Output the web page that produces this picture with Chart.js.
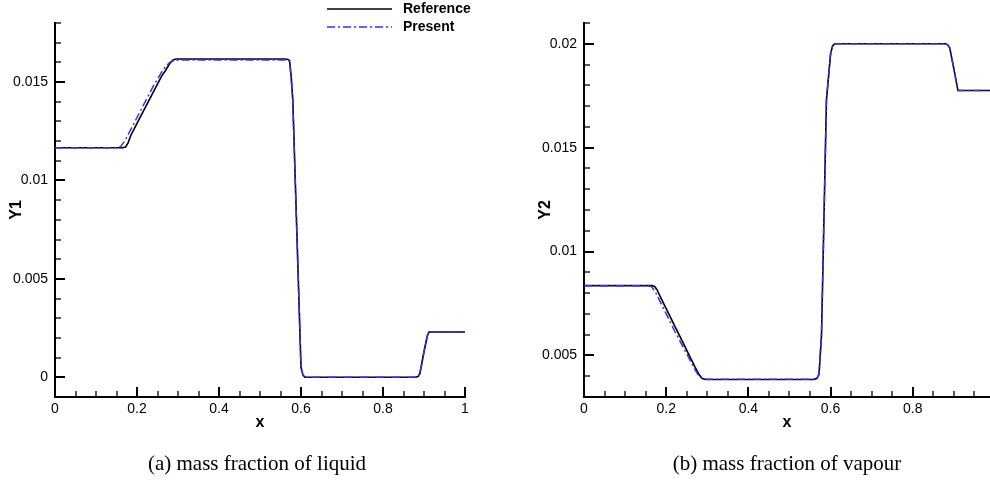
<!DOCTYPE html>
<html><head><meta charset="utf-8">
<script src="https://cdn.jsdelivr.net/npm/chart.js@4.4.0/dist/chart.umd.min.js"></script>
<style>
html,body{margin:0;padding:0;background:#fff;width:990px;height:483px;overflow:hidden;}
canvas{position:absolute;top:0;}
#c1{left:0}
#c2{left:495px}
.cap{position:absolute;top:451px;line-height:24px;font-family:"Liberation Serif","Times New Roman",serif;font-size:21px;white-space:nowrap;transform:translateX(-50%);color:#000;}
</style></head><body>
<canvas id="c1" width="495" height="483"></canvas>
<canvas id="c2" width="495" height="483"></canvas>
<div class="cap" style="left:257px">(a) mass fraction of liquid</div>
<div class="cap" style="left:787px">(b) mass fraction of vapour</div>
<script>
// ---- data ----
const SERIES_NAMES = ['Reference', 'Present'];

const Y1_REF_X = [0, 0.165, 0.172, 0.178, 0.185, 0.19, 0.20, 0.22, 0.24, 0.26, 0.27, 0.28, 0.288, 0.295, 0.30, 0.56, 0.568, 0.572, 0.576, 0.58, 0.59, 0.60, 0.605, 0.61, 0.88, 0.886, 0.89, 0.90, 0.908, 0.912, 1.0];
const Y1_REF_Y = [0.01166, 0.01166, 0.01170, 0.01190, 0.01230, 0.01250, 0.01290, 0.01370, 0.01450, 0.01530, 0.01560, 0.01595, 0.01612, 0.01617, 0.01617, 0.01617, 0.01615, 0.01610, 0.01530, 0.01410, 0.00730, 0.00050, 0.00010, 0.0, 0.0, 0.00005, 0.00020, 0.00130, 0.00210, 0.00230, 0.00230];

const Y1_PRE_X = [0, 0.15, 0.16, 0.17, 0.18, 0.19, 0.20, 0.22, 0.24, 0.26, 0.27, 0.28, 0.29, 0.30, 0.56, 0.568, 0.572, 0.576, 0.58, 0.59, 0.60, 0.605, 0.61, 0.88, 0.886, 0.89, 0.90, 0.908, 0.912, 1.0];
const Y1_PRE_Y = [0.01166, 0.01166, 0.01172, 0.01200, 0.01240, 0.01280, 0.01320, 0.01400, 0.01480, 0.01550, 0.01580, 0.01600, 0.01610, 0.01612, 0.01612, 0.01610, 0.01605, 0.01520, 0.01400, 0.00720, 0.00050, 0.00010, 0.0, 0.0, 0.00005, 0.00020, 0.00130, 0.00210, 0.00230, 0.00230];

const Y2_REF_X = [0, 0.165, 0.172, 0.178, 0.185, 0.19, 0.20, 0.22, 0.24, 0.26, 0.27, 0.28, 0.287, 0.295, 0.30, 0.56, 0.567, 0.572, 0.578, 0.59, 0.60, 0.605, 0.61, 0.88, 0.885, 0.89, 0.90, 0.91, 0.988];
const Y2_REF_Y = [0.00836, 0.00836, 0.00832, 0.00815, 0.00785, 0.00765, 0.00725, 0.00645, 0.00565, 0.00485, 0.00445, 0.00408, 0.00390, 0.00384, 0.00384, 0.00385, 0.00390, 0.00410, 0.00600, 0.01730, 0.01950, 0.01990, 0.02000, 0.02000, 0.01995, 0.01980, 0.01880, 0.01775, 0.01775];

const Y2_PRE_X = [0, 0.155, 0.165, 0.175, 0.19, 0.20, 0.22, 0.24, 0.26, 0.27, 0.28, 0.29, 0.30, 0.56, 0.567, 0.572, 0.578, 0.59, 0.60, 0.605, 0.61, 0.88, 0.885, 0.89, 0.90, 0.91, 0.988];
const Y2_PRE_Y = [0.00836, 0.00836, 0.00830, 0.00800, 0.00740, 0.00700, 0.00620, 0.00545, 0.00470, 0.00432, 0.00400, 0.00388, 0.00385, 0.00385, 0.00390, 0.00410, 0.00600, 0.01730, 0.01950, 0.01990, 0.02000, 0.02000, 0.01995, 0.01980, 0.01880, 0.01775, 0.01775];

const X_TICKS_A = [0, 0.2, 0.4, 0.6, 0.8, 1];
const X_TICKS_B = [0, 0.2, 0.4, 0.6, 0.8];
const Y1_TICKS = [0, 0.005, 0.01, 0.015];
const Y2_TICKS = [0.005, 0.01, 0.015, 0.02];

// ---- helpers ----
const pts = (xs, ys) => xs.map((x, i) => ({x: x, y: ys[i]}));
const fmt = v => String(Number(Number(v).toFixed(4)));
const SANS = '"Liberation Sans", Arial, sans-serif';
const BLUE = '#2f2fff';

function minorList(min, max, step) {
  const out = [];
  const n0 = Math.ceil(min / step - 1e-9), n1 = Math.floor(max / step + 1e-9);
  for (let n = n0; n <= n1; n++) out.push(n * step);
  return out;
}

const inwardTicks = {
  id: 'inwardTicks',
  afterDraw(chart, args, o) {
    const ctx = chart.ctx, a = chart.chartArea;
    const xs = chart.scales.x, ys = chart.scales.y;
    ctx.save();
    ctx.strokeStyle = '#000';
    const isMajor = (v, majors) => majors.some(m => Math.abs(m - v) < 1e-9);
    minorList(xs.min, xs.max, o.xMinor).forEach(v => {
      const maj = isMajor(v, o.xMajor);
      const px = Math.round(xs.getPixelForValue(v));
      ctx.lineWidth = maj ? 2 : 1.3;
      ctx.beginPath(); ctx.moveTo(px, a.bottom); ctx.lineTo(px, a.bottom - (maj ? 10 : 6)); ctx.stroke();
    });
    minorList(ys.min, ys.max, o.yMinor).forEach(v => {
      const maj = isMajor(v, o.yMajor);
      const py = Math.round(ys.getPixelForValue(v));
      ctx.lineWidth = maj ? 2 : 1.3;
      ctx.beginPath(); ctx.moveTo(a.left, py); ctx.lineTo(a.left + (maj ? 10 : 6), py); ctx.stroke();
    });
    ctx.restore();
  }
};

const legendPlugin = {
  id: 'fixedLegend',
  afterDraw(chart, args, o) {
    if (!o.show) return;
    const ctx = chart.ctx;
    ctx.save();
    ctx.font = 'bold 14px ' + SANS;
    ctx.textBaseline = 'middle';
    ctx.fillStyle = '#000';
    chart.data.datasets.forEach((ds, i) => {
      const y = o.y0 + i * o.dy;
      ctx.strokeStyle = ds.borderColor;
      ctx.lineWidth = ds.borderWidth;
      ctx.setLineDash(ds.borderDash || []);
      ctx.beginPath(); ctx.moveTo(o.x0, y); ctx.lineTo(o.x1, y); ctx.stroke();
      ctx.setLineDash([]);
      ctx.fillText(ds.label, o.tx, y);
    });
    ctx.restore();
  }
};

function makeChart(id, cfg) {
  const tickFont = {family: SANS, size: 14};
  const titleFont = {family: SANS, size: 16, weight: 'bold'};
  return new Chart(document.getElementById(id), {
    type: 'line',
    data: {
      datasets: [
        {label: SERIES_NAMES[0], data: pts(cfg.refX, cfg.refY), borderColor: '#000', borderWidth: 1.6, pointRadius: 0, tension: 0, order: 1, fill: false},
        {label: SERIES_NAMES[1], data: pts(cfg.preX, cfg.preY), borderColor: BLUE, borderWidth: 1.5, borderDash: [8, 3, 2, 3], pointRadius: 0, tension: 0, order: 0, fill: false}
      ]
    },
    options: {
      responsive: false, animation: false, devicePixelRatio: 1,
      layout: {padding: {left: 0, top: 23, right: cfg.padRight, bottom: 50}},
      plugins: {
        legend: {display: false}, tooltip: {enabled: false},
        inwardTicks: {xMinor: 0.05, yMinor: 0.001, xMajor: cfg.xTicks, yMajor: cfg.yTicks},
        fixedLegend: cfg.legend
      },
      scales: {
        x: {
          type: 'linear', min: 0, max: cfg.xMax,
          grid: {display: false, drawTicks: false},
          border: {display: true, width: 2, color: '#000'},
          ticks: {padding: 4, font: tickFont, color: '#000', autoSkip: false, maxRotation: 0, callback: fmt},
          afterBuildTicks: s => { s.ticks = cfg.xTicks.map(v => ({value: v})); },
          afterFit: s => { s.height = 36; },
          title: {display: true, text: 'x', color: '#000', font: titleFont, padding: {top: 0, bottom: 0.4}}
        },
        y: {
          type: 'linear', min: cfg.yMin, max: cfg.yMax,
          grid: {display: false, drawTicks: false},
          border: {display: true, width: 2, color: '#000'},
          ticks: {padding: 7, font: tickFont, color: '#000', autoSkip: false, callback: fmt},
          afterBuildTicks: s => { s.ticks = cfg.yTicks.map(v => ({value: v})); },
          afterFit: s => { s.width = cfg.yWidth; },
          title: {display: true, text: cfg.yTitle, color: '#000', font: titleFont, padding: {top: cfg.yTitlePad, bottom: 0}}
        }
      }
    },
    plugins: [inwardTicks, legendPlugin]
  });
}

makeChart('c1', {
  refX: Y1_REF_X, refY: Y1_REF_Y, preX: Y1_PRE_X, preY: Y1_PRE_Y,
  xMax: 1, yMin: -0.001, yMax: 0.018, xTicks: X_TICKS_A, yTicks: Y1_TICKS,
  yWidth: 55, yTitle: 'Y1', yTitlePad: 6.7, padRight: 30,
  legend: {show: true, x0: 327, x1: 392, tx: 403, y0: 9, dy: 18}
});
makeChart('c2', {
  refX: Y2_REF_X, refY: Y2_REF_Y, preX: Y2_PRE_X, preY: Y2_PRE_Y,
  xMax: 0.988, yMin: 0.003, yMax: 0.021, xTicks: X_TICKS_B, yTicks: Y2_TICKS,
  yWidth: 89, yTitle: 'Y2', yTitlePad: 41, padRight: 0,
  legend: {show: false}
});
</script>
</body></html>
